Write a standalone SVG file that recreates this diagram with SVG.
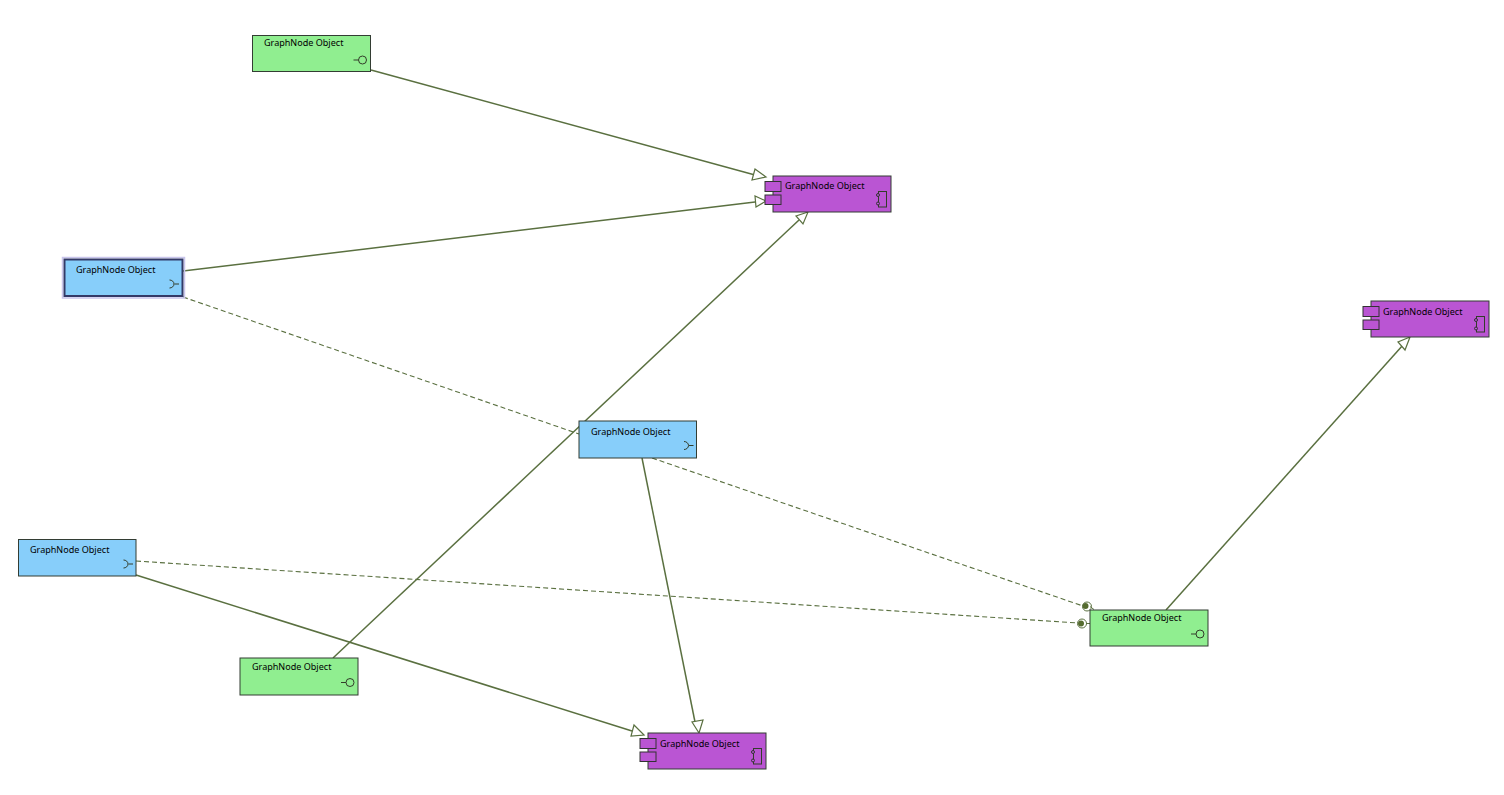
<svg xmlns="http://www.w3.org/2000/svg" width="1504" height="795" viewBox="0 0 1504 795">
<defs>
<style>
.box{stroke:#333d33;stroke-width:1}
.g{fill:#90ee90}.b{fill:#87cefa}.p{fill:#ba55d3}
.t{font-family:"Noto Sans","Open Sans",sans-serif;font-size:9.05px;fill:#000}
.i{fill:none;stroke:#333d2a;stroke-width:1}
.pt{fill:#ba55d3;stroke:#333;stroke-width:1}
.l{fill:none;stroke:#5a7040;stroke-width:1.5}
.d{fill:none;stroke:#5a7040;stroke-width:1.1;stroke-dasharray:5 3}
.a{fill:#fff;stroke:#5a7040;stroke-width:1.2}
.c{fill:#556b2f;stroke:none}
.o{fill:none;stroke:#5a7040;stroke-width:1}
</style>
<g id="ig"><path class="i" d="M101 24.500h5"/><circle class="i" cx="110" cy="24.500" r="4"/></g>
<g id="ib"><path class="i" d="M110 24.500h4.500M105 20.500a4.500 4 0 0 1 0 8"/></g>
<g id="ip"><rect class="i" x="105.500" y="15.500" width="8" height="15.500"/><circle class="pt" cx="105" cy="19" r="1.500"/><circle class="pt" cx="105" cy="27.500" r="1.500"/><rect class="pt" x="-8" y="5.500" width="16" height="10"/><rect class="pt" x="-8" y="19" width="16" height="9.500"/></g>
</defs>
<rect width="1504" height="795" fill="#fff"/>
<g id="connectors">
<path class="l" d="M371 70L755 175"/>
<path class="l" d="M183 271L755 202"/>
<path class="l" d="M333 658L799 220"/>
<path class="l" d="M136 575L632 731"/>
<path class="l" d="M642 458L695 722"/>
<path class="l" d="M1166 610L1403 345"/>
<path class="d" d="M183 297L579 434"/>
<path class="d" d="M652 458L1083 606"/>
<path class="d" d="M136 561L1078 623"/>
<path class="a" d="M766 177L755 169L752 180Z"/>
<path class="a" d="M766 201L755 196L756 207Z"/>
<path class="a" d="M808 212L796 216L803 224Z"/>
<path class="a" d="M644 735L634 725L631 736Z"/>
<path class="a" d="M699 733L692 722L703 720Z"/>
<path class="a" d="M1410 337L1398 342L1405 350Z"/>
<circle class="c" cx="1085.500" cy="606" r="3"/>
<circle class="o" cx="1087" cy="606.500" r="4.500"/>
<path class="l" d="M1090 606.500l4 3" style="stroke-width:1"/>
<circle class="c" cx="1081" cy="623.500" r="3"/>
<circle class="o" cx="1082" cy="623.500" r="4.500"/>
<path class="l" d="M1086 623.500h4" style="stroke-width:1"/>
</g>
<g id="node-green-1" transform="translate(252.500 35.500)"><rect class="box g" width="118" height="36"/><text class="t" x="11.500" y="10.500">GraphNode Object</text><use href="#ig"/></g>
<g id="node-purple-1" transform="translate(773 176)"><rect class="box p" width="118" height="36"/><text class="t" x="12" y="13">GraphNode Object</text><use href="#ip"/></g>
<g id="node-blue-selected" transform="translate(64.500 259.500)"><rect x="-2" y="-2" width="122" height="40.500" fill="none" stroke="#c9c5ec" stroke-width="1.500"/><rect class="b" width="118" height="36.500" stroke="#333a68" stroke-width="2"/><text class="t" x="11.500" y="13">GraphNode Object</text><use href="#ib"/></g>
<g id="node-blue-2" transform="translate(579 421)"><rect class="box b" width="117.500" height="37"/><text class="t" x="12" y="14">GraphNode Object</text><use href="#ib"/></g>
<g id="node-blue-3" transform="translate(18.500 539.500)"><rect class="box b" width="117.500" height="36.500"/><text class="t" x="11.500" y="13.500">GraphNode Object</text><use href="#ib"/></g>
<g id="node-green-2" transform="translate(240 658)"><rect class="box g" width="118" height="37"/><text class="t" x="12" y="11.500">GraphNode Object</text><use href="#ig"/></g>
<g id="node-purple-2" transform="translate(648 733)"><rect class="box p" width="118" height="36"/><text class="t" x="12" y="14">GraphNode Object</text><use href="#ip"/></g>
<g id="node-green-3" transform="translate(1090 610)"><rect class="box g" width="118" height="36"/><text class="t" x="12" y="11">GraphNode Object</text><use href="#ig" y="-0.500"/></g>
<g id="node-purple-3" transform="translate(1371 301)"><rect class="box p" width="118" height="36"/><text class="t" x="12" y="14">GraphNode Object</text><use href="#ip"/></g>
</svg>
